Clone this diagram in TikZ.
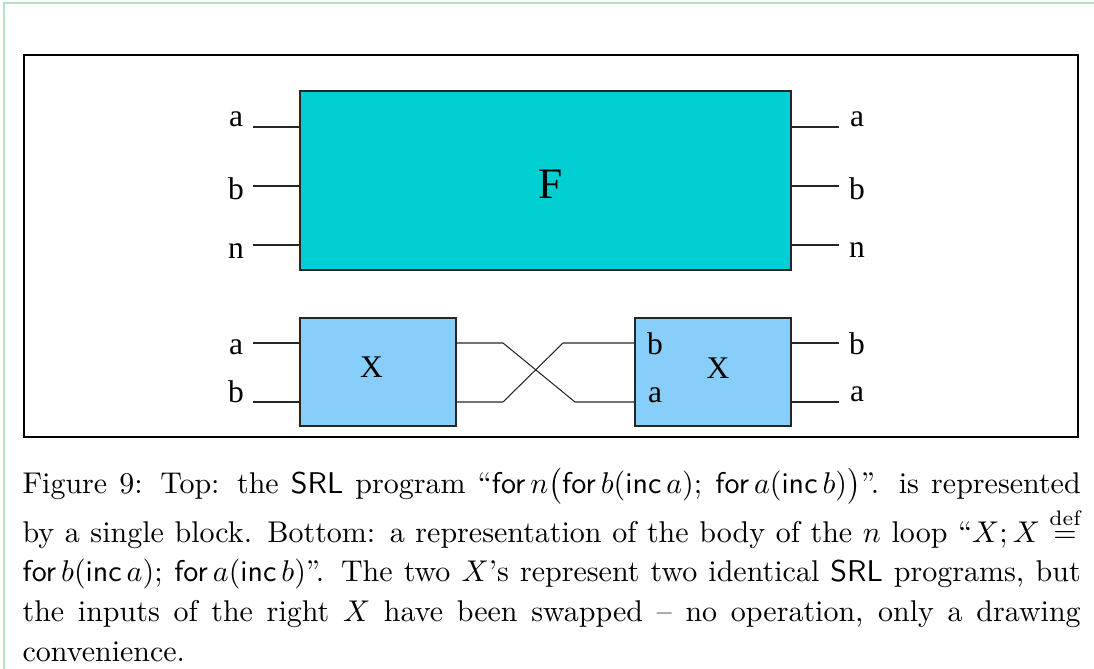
\documentclass[tikz,border=0pt]{standalone}
\usepackage{fontspec}
\usetikzlibrary{fit}
\newfontfamily\labfont{Liberation Serif}
\definecolor{fcyan}{HTML}{00CED1}
\definecolor{xblue}{HTML}{87CEFA}
\definecolor{pgreen}{HTML}{B4E2C4}
\begin{document}
\begin{tikzpicture}[x=0.33333pt,y=-0.33333pt,
  blk/.style={draw=black!85, line width=0.35pt, inner sep=0pt},
  wire/.style={draw=black!85, line width=0.35pt},
  lab/.style={font=\labfont\fontsize{10.5}{12}\selectfont, inner sep=0pt, anchor=base},
  big/.style={font=\labfont\fontsize{14.5}{16}\selectfont, inner sep=0pt, anchor=base}]
\useasboundingbox (0,0) rectangle (1094,669);
\draw[pgreen, line width=0.6pt] (1094,3) -- (4,3) -- (4,669);
\node[draw, line width=0.5pt, fit={(24,55) (1078,437)}, inner sep=0pt] (frame) {};
% top block
\node[blk, fill=fcyan, fit={(300,91) (791,270)}] (F) {};
\node[big] (Ft) at (551,199) {F};
\coordinate (ta) at (253,127); \coordinate (tb) at (253,186); \coordinate (tn) at (253,245);
\coordinate (ua) at (839,127); \coordinate (ub) at (839,186); \coordinate (un) at (839,245);
\draw[wire] (ta) -- (ta -| F.west);
\draw[wire] (tb) -- (tb -| F.west);
\draw[wire] (tn) -- (tn -| F.west);
\draw[wire] (F.east |- ua) -- (ua);
\draw[wire] (F.east |- ub) -- (ub);
\draw[wire] (F.east |- un) -- (un);
\node[lab] (lta) at (236,127) {a};
\node[lab] (ltb) at (236,200) {b};
\node[lab] (ltn) at (236,259) {n};
\node[lab] (rta) at (857,127) {a};
\node[lab] (rtb) at (857,200) {b};
\node[lab] (rtn) at (857,258) {n};
% bottom blocks
\node[blk, fill=xblue, fit={(300,318) (456,426)}] (X1) {};
\node[blk, fill=xblue, fit={(635,318) (791,426)}] (X2) {};
\node[lab] (X1t) at (371.5,378) {X};
\node[lab] (X2t) at (718,379) {X};
\coordinate (ba) at (253,343); \coordinate (bb) at (253,402);
\coordinate (ca) at (503,343); \coordinate (cb) at (503,402);
\coordinate (da) at (563,343); \coordinate (db) at (575,402);
\coordinate (ea) at (839,343); \coordinate (eb) at (839,402);
\draw[wire] (ba) -- (ba -| X1.west);
\draw[wire] (bb) -- (bb -| X1.west);
\draw[wire] (X1.east |- ca) -- (ca) -- (db) -- (X2.west |- db);
\draw[wire] (X1.east |- cb) -- (cb) -- (da) -- (X2.west |- da);
\draw[wire] (X2.east |- ea) -- (ea);
\draw[wire] (X2.east |- eb) -- (eb);
\node[lab] (lba) at (236,355) {a};
\node[lab] (lbb) at (236,403) {b};
\node[lab] (iba) at (655,355) {b};
\node[lab] (ibb) at (655,403) {a};
\node[lab] (rba) at (857,355) {b};
\node[lab] (rbb) at (857,402) {a};
% caption
\node[anchor=base west, inner sep=0pt] (cap) at (22,494) {\parbox[t]{352.7pt}{\fontsize{10}{13.23}\selectfont
Figure 9: Top: the \textsf{SRL} program ``$\textsf{for}\,n\bigl(\textsf{for}\,b(\textsf{inc}\,a)$; $\textsf{for}\,a(\textsf{inc}\,b)\bigr)$''. is represented\linebreak
by a single block. Bottom: a representation of the body of the $n$ loop ``$X; X \stackrel{\mathrm{def}}{=}$\linebreak
$\textsf{for}\,b(\textsf{inc}\,a)$; $\textsf{for}\,a(\textsf{inc}\,b)$''. The two $X$'s represent two identical \textsf{SRL} programs, but\linebreak
the inputs of the right $X$ have been swapped -- no operation, only a drawing\linebreak
convenience.}};
\end{tikzpicture}
\end{document}
